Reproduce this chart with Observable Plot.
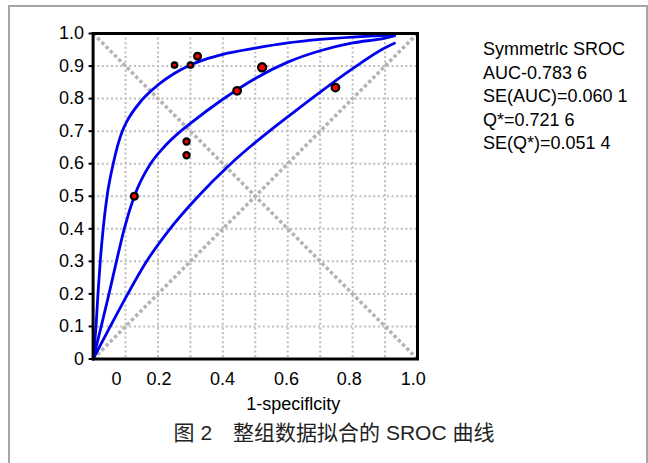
<!DOCTYPE html>
<html>
<head>
<meta charset="utf-8">
<script src="https://cdn.jsdelivr.net/npm/d3@7"></script>
<script src="https://cdn.jsdelivr.net/npm/@observablehq/plot@0.6"></script>
<style>
  html, body { margin: 0; padding: 0; background: #fff; }
  #wrap { position: relative; width: 648px; height: 463px; overflow: hidden; background: #fff; }
  #border { position: absolute; left: 8px; top: 5px; width: 640px; height: 480px;
            border: 2px solid #a6a6a6; border-bottom: none; box-sizing: border-box; }
  #chart { position: absolute; left: 0; top: 0; }
  #stats { position: absolute; left: 483px; top: 38px; font-family: "Liberation Sans", Arial, sans-serif;
           font-size: 18px; line-height: 23.5px; color: #000; white-space: pre; }
  #caption { position: absolute; left: 0; top: 420px; width: 648px; padding-left: 20px; box-sizing: border-box;
             text-align: center; font-family: "Liberation Sans", Arial, "Noto Sans CJK SC", sans-serif;
             font-size: 21px; line-height: 26px; color: #222; white-space: pre; }
</style>
</head>
<body>
<div id="wrap">
  <div id="border"></div>
  <div id="chart"></div>
  <div id="stats"></div>
  <div id="caption"></div>
</div>
<script>
// ---- data ----
const upperCurve = [[0,0],[0.009,0.1],[0.015,0.2],[0.022,0.3],[0.031,0.4],[0.043,0.5],[0.062,0.6],[0.09,0.7],
  [0.1,0.722],[0.15,0.795],[0.2,0.842],[0.25,0.877],[0.3,0.903],[0.35,0.922],[0.4,0.936],[0.5,0.955],
  [0.6,0.971],[0.7,0.982],[0.8,0.989],[0.929,0.995]];
const sromCurve = [[0,0],[0.025,0.1],[0.049,0.2],[0.072,0.3],[0.096,0.4],[0.127,0.5],[0.177,0.6],[0.213,0.645],
  [0.27,0.7],[0.3,0.724],[0.4,0.798],[0.5,0.862],[0.6,0.912],[0.7,0.947],[0.8,0.971],[0.9,0.986],[0.929,0.993]];
const lowerCurve = [[0,0],[0.053,0.1],[0.107,0.2],[0.165,0.3],[0.237,0.4],[0.325,0.501],[0.418,0.594],[0.484,0.652],
  [0.551,0.706],[0.6,0.744],[0.7,0.82],[0.8,0.892],[0.9,0.956],[0.929,0.97]];
const studyFPR  = [0.251, 0.300, 0.322, 0.521, 0.444, 0.747, 0.288, 0.288, 0.127];
const studyTPR  = [0.903, 0.903, 0.930, 0.896, 0.824, 0.834, 0.668, 0.626, 0.500];
const studyWeight = [1, 1, 1.6, 2.2, 1.9, 1.9, 1.3, 1.3, 1.6];
const chanceLine = [[0,0],[1,1]];
const qStarLine = [[0,1],[1,0]];
const gridTicks = [0.1,0.2,0.3,0.4,0.5,0.6,0.7,0.8,0.9];
const yTicks = [0,0.1,0.2,0.3,0.4,0.5,0.6,0.7,0.8,0.9,1];
const yTickLabels = ["0","0.1","0.2","0.3","0.4","0.5","0.6","0.7","0.8","0.9","1.0"];
const xTickPos = [0.072,0.203,0.399,0.596,0.79,0.987];
const xTickLabels = ["0","0.2","0.4","0.6","0.8","1.0"];
const xAxisTitle = "1-speciflcity";
const statsLines = ["Symmetrlc SROC","AUC-0.783 6","SE(AUC)=0.060 1","Q*=0.721 6","SE(Q*)=0.051 4"];
const captionText = "图 2\u3000整组数据拟合的 SROC 曲线";

const studies = studyFPR.map((x, i) => ({x, y: studyTPR[i], w: studyWeight[i]}));
const yFmt = new Map(yTicks.map((t, i) => [t, yTickLabels[i]]));
const xFmt = new Map(xTickPos.map((t, i) => [t, xTickLabels[i]]));

const blue = "#0000ee";
const curveOpts = {x: d => d[0], y: d => d[1], stroke: blue, strokeWidth: 2.8, curve: "monotone-x"};
const diagOpts = {x: d => d[0], y: d => d[1], stroke: "#b4b4b4", strokeWidth: 3.5, strokeDasharray: "3.5,2.5", strokeLinecap: "butt"};
const gridOpts = {stroke: "#bdbdbd", strokeWidth: 2, strokeDasharray: "2,2.6", strokeLinecap: "butt"};

const chart = Plot.plot({
  width: 648, height: 420,
  marginLeft: 92.6, marginRight: 231, marginTop: 33, marginBottom: 61.5,
  x: {domain: [0, 1], axis: null},
  y: {domain: [0, 1], axis: null},
  r: {type: "linear", domain: [1, 2.2], range: [2.7, 4.1]},
  style: {fontFamily: "'Liberation Sans', Arial, sans-serif", fontSize: "18px", color: "#000", background: "transparent", overflow: "visible"},
  marks: [
    Plot.ruleX(gridTicks, gridOpts),
    Plot.ruleY(gridTicks, gridOpts),
    Plot.line(chanceLine, diagOpts),
    Plot.line(qStarLine, diagOpts),
    Plot.line(upperCurve, curveOpts),
    Plot.line(sromCurve, curveOpts),
    Plot.line(lowerCurve, curveOpts),
    Plot.dot(studies, {x: "x", y: "y", r: "w", fill: "#ff0000", stroke: "#000", strokeWidth: 2.3}),
    Plot.frame({stroke: "#000", strokeWidth: 3}),
    Plot.axisY({ticks: yTicks, tickFormat: d => yFmt.get(d), label: null, tickSize: 4, tickPadding: 5, strokeWidth: 2, fontSize: 18, fill: "#000"}),
    Plot.axisX({ticks: xTickPos, tickFormat: d => xFmt.get(d), label: null, tickSize: 0, tickPadding: 13, fontSize: 18, fill: "#000"}),
    Plot.text([xAxisTitle], {text: d => d, frameAnchor: "bottom", lineAnchor: "middle", dx: 38, dy: 45, fontSize: 18, fill: "#000"})
  ]
});
document.getElementById("chart").appendChild(chart);
document.getElementById("stats").textContent = statsLines.join("\n");
document.getElementById("caption").textContent = captionText;
</script>
</body>
</html>
